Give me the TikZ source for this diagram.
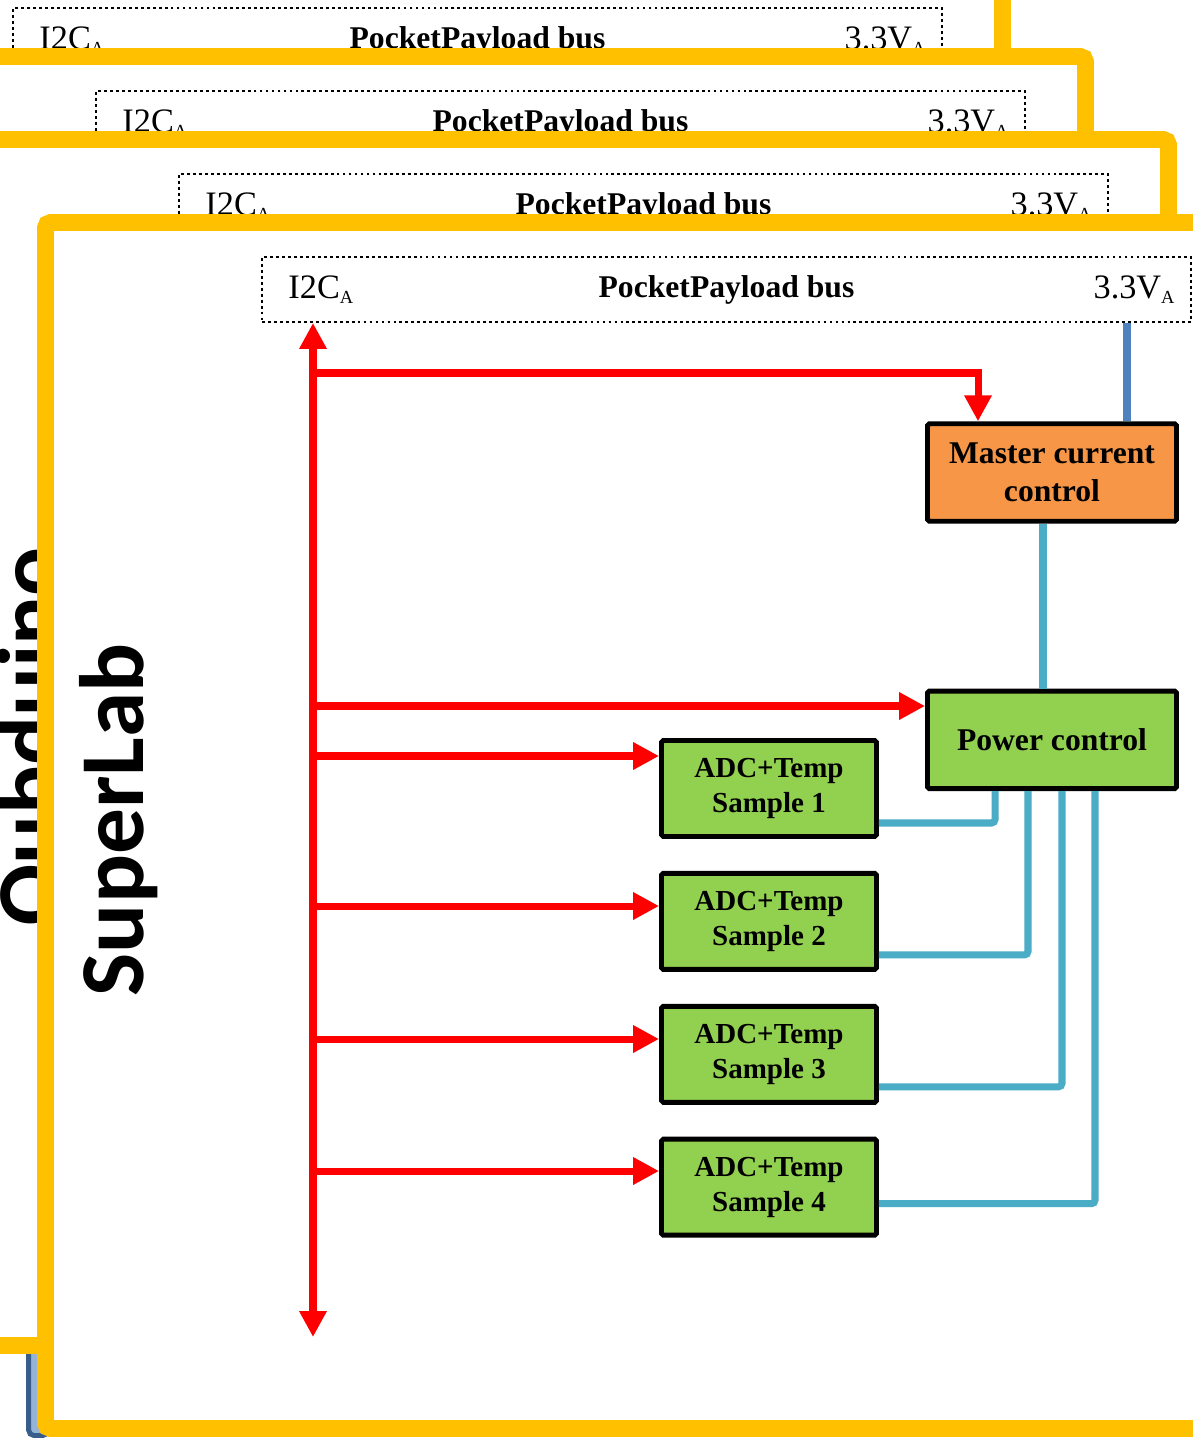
\documentclass[tikz,border=0pt]{standalone}
\usepackage{fontspec}
\setmainfont{Liberation Serif}
\newfontfamily\labelfont{Carlito}
\usetikzlibrary{arrows.meta,positioning,calc}
\definecolor{frameyellow}{RGB}{255,192,0}
\definecolor{ctrlorange}{RGB}{247,150,70}
\definecolor{ctrlgreen}{RGB}{146,208,80}
\definecolor{pwrteal}{RGB}{75,172,198}
\definecolor{supplyblue}{RGB}{79,129,189}
\definecolor{edgeblue}{RGB}{56,93,138}
\definecolor{edgelight}{RGB}{149,179,215}
\newcommand\lowsub[1]{\raisebox{-2.8pt}{\fontsize{10.5}{10.5}\selectfont#1}}

\begin{document}
\begin{tikzpicture}[
  x=0.02cm, y=-0.02cm,
  board/.style={draw=frameyellow, line width=9.6pt, fill=white, rounded corners=3pt},
  busbox/.style={draw, line width=1.1pt, dash pattern=on 1.6pt off 1.8pt,
    minimum width=18.58cm, minimum height=1.3cm, inner sep=0pt,
    font=\fontsize{18}{21}\selectfont\bfseries},
  sig/.style={inner sep=0pt, font=\fontsize{19.5}{22}\selectfont},
  ctrl/.style={draw, line width=2.8pt, rounded corners=1pt, minimum width=4.98cm,
    minimum height=1.95cm, align=center, font=\fontsize{18}{21.5}\selectfont\bfseries},
  adc/.style={draw, line width=2.8pt, rounded corners=1pt, fill=ctrlgreen,
    minimum width=4.3cm, minimum height=1.92cm, align=center,
    font=\fontsize{16.5}{19.8}\selectfont\bfseries},
  boardlabel/.style={rotate=90, anchor=base, inner sep=0pt,
    font=\labelfont\fontsize{52}{52}\selectfont\bfseries},
  >={Triangle[length=14.7pt, width=14.7pt]},
  i2c/.style={->, line width=4pt, red},
  pwr/.style={line width=4pt, pwrteal, rounded corners=2pt},
  supply/.style={line width=4.5pt, supplyblue},
  node distance=0.64cm,
]
\useasboundingbox (0,0) rectangle (1193,1438);
\clip (0,0) rectangle (1193,1438);

% Board edge behind the stack
\draw[draw=edgeblue, fill=edgelight, line width=2.8pt, rounded corners=3pt]
  (28.7,1300) rectangle (48,1435.5);

% Stacked boards
\foreach \d in {249,166,83} {
  \draw[board] ({45.5-\d},{222.5-\d}) rectangle ({1251.5-\d},{1428.5-\d});
  \node[busbox] (bus\d) at ({726.5-\d},{289.5-\d}) {PocketPayload bus};
  \node[sig, right=0.54cm of bus\d.west] {I2C\lowsub{A}};
  \node[sig, left=0.34cm of bus\d.east] {3.3V\lowsub{A}};
}
\node[boardlabel] (qubduino) at (60,737) {Qubduino};

% Front board
\draw[board] (45.5,222.5) rectangle (1251.5,1428.5);
\node[boardlabel] (superlab) at (143,820) {SuperLab};
\node[busbox] (bus) at (726.5,289.5) {PocketPayload bus};
\node[sig, right=0.54cm of bus.west] (i2cA) {I2C\lowsub{A}};
\node[sig, left=0.34cm of bus.east] (vccA) {3.3V\lowsub{A}};

\node[ctrl, fill=ctrlorange] (mcc) at (1052,472.5) {Master current\\control};
\node[ctrl, fill=ctrlgreen, below=3.3cm of mcc] (pc) {Power control};

\node[adc] (s1) at (769,788.5) {ADC+Temp\\Sample 1};
\node[adc, below=of s1] (s2) {ADC+Temp\\Sample 2};
\node[adc, below=of s2] (s3) {ADC+Temp\\Sample 3};
\node[adc, below=of s3] (s4) {ADC+Temp\\Sample 4};

% I2C bus
\coordinate (busx) at (313,0);
\coordinate (busend) at (313,1337);
\draw[i2c, <->] (bus.south -| busx) -- (busend);
\coordinate (mtap) at (313,373);
\draw[i2c] (mtap) -| ([xshift=-1.48cm]mcc.north);
\foreach \y/\target in {706/pc, 756/s1, 906/s2, 1039/s3, 1171/s4} {
  \coordinate (tap) at (313,\y);
  \draw[i2c] (tap) -- (tap -| \target.west);
}

% Power lines
\draw[supply] ([xshift=1.5cm]mcc.north |- bus.south) -- ([xshift=1.5cm]mcc.north);
\draw[pwr] ([xshift=-0.18cm]mcc.south) -- ([xshift=-0.18cm]pc.north);
\draw[pwr] ([xshift=-1.14cm]pc.south) |- ([yshift=-0.69cm]s1.east);
\draw[pwr] ([xshift=-0.48cm]pc.south) |- ([yshift=-0.67cm]s2.east);
\draw[pwr] ([xshift=0.2cm]pc.south) |- ([yshift=-0.65cm]s3.east);
\draw[pwr] ([xshift=0.86cm]pc.south) |- ([yshift=-0.33cm]s4.east);

\end{tikzpicture}
\end{document}
